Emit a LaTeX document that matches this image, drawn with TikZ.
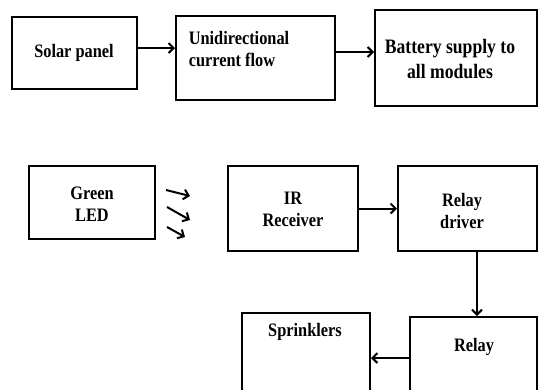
\documentclass[tikz,border=0pt]{standalone}
\usepackage{fontspec}
\setmainfont{Liberation Serif}
\newfontfamily\tfont{Liberation Serif}[FakeStretch=0.86]
\usetikzlibrary{arrows.meta}
\begin{document}
\begin{tikzpicture}[x=1pt,y=-1pt,
  box/.style={draw, line width=2pt, inner sep=0pt},
  arr/.style={line width=2pt, -{Straight Barb[length=5pt,width=10pt]}},
  lbl/.style={font=\tfont\bfseries\fontsize{19}{22}\selectfont, align=center, inner sep=0pt},
  biglbl/.style={font=\tfont\bfseries\fontsize{20.5}{25}\selectfont, align=center, inner sep=0pt}]
\useasboundingbox (0,0) rectangle (538,389);
\clip (0,0) rectangle (538,389);
% boxes
\node[box, minimum width=125pt, minimum height=72pt] (solar) at (74.5,52.5) {};
\node[box, minimum width=159pt, minimum height=84pt] (unidir) at (255.5,58) {};
\node[box, minimum width=162pt, minimum height=96pt] (battery) at (456,58) {};
\node[box, minimum width=126pt, minimum height=73pt] (green) at (92,202.5) {};
\node[box, minimum width=130pt, minimum height=85pt] (ir) at (293,208.5) {};
\node[box, minimum width=139pt, minimum height=85pt] (rdriver) at (467.5,208.5) {};
\node[box, minimum width=128pt, minimum height=107pt] (sprink) at (306,366.5) {};
\node[box, minimum width=127pt, minimum height=103pt] (relay) at (473.5,368.5) {};
% texts
\node[lbl] (tsolar) at (74,53) {Solar panel};
\node[lbl, align=left] (tunidir) at (239,49) {Unidirectional\\current flow};
\node[biglbl] (tbattery) at (450,59.5) {Battery supply to\\all modules};
\node[lbl] (tgreen) at (92,204) {Green\\LED};
\node[lbl] (tir) at (293,209) {IR\\Receiver};
\node[lbl] (trdriver) at (462,211) {Relay\\driver};
\node[lbl] (tsprink) at (305,332) {Sprinklers};
\node[lbl] (trelay) at (474,347) {Relay};
% connectors
\draw[arr] ([yshift=4.5pt]solar.east) coordinate (a1) -- (a1 -| unidir.west);
\draw[arr] ([yshift=6pt]unidir.east) coordinate (a2) -- (a2 -| battery.west);
\draw[arr] (ir.east) -- (rdriver.west);
\draw[arr] ([xshift=9.5pt]rdriver.south) coordinate (a3) -- (a3 |- relay.north);
\draw[arr] ([yshift=10.5pt]relay.west) coordinate (a4) -- (a4 -| sprink.east);
% light rays
\coordinate (r1s) at (166,190); \coordinate (r1e) at (190,196);
\coordinate (r2s) at (167,207); \coordinate (r2e) at (190,220);
\coordinate (r3s) at (167,227); \coordinate (r3e) at (185,237);
\draw[arr] (r1s) -- (r1e);
\draw[arr] (r2s) -- (r2e);
\draw[arr] (r3s) -- (r3e);
\end{tikzpicture}
\end{document}
